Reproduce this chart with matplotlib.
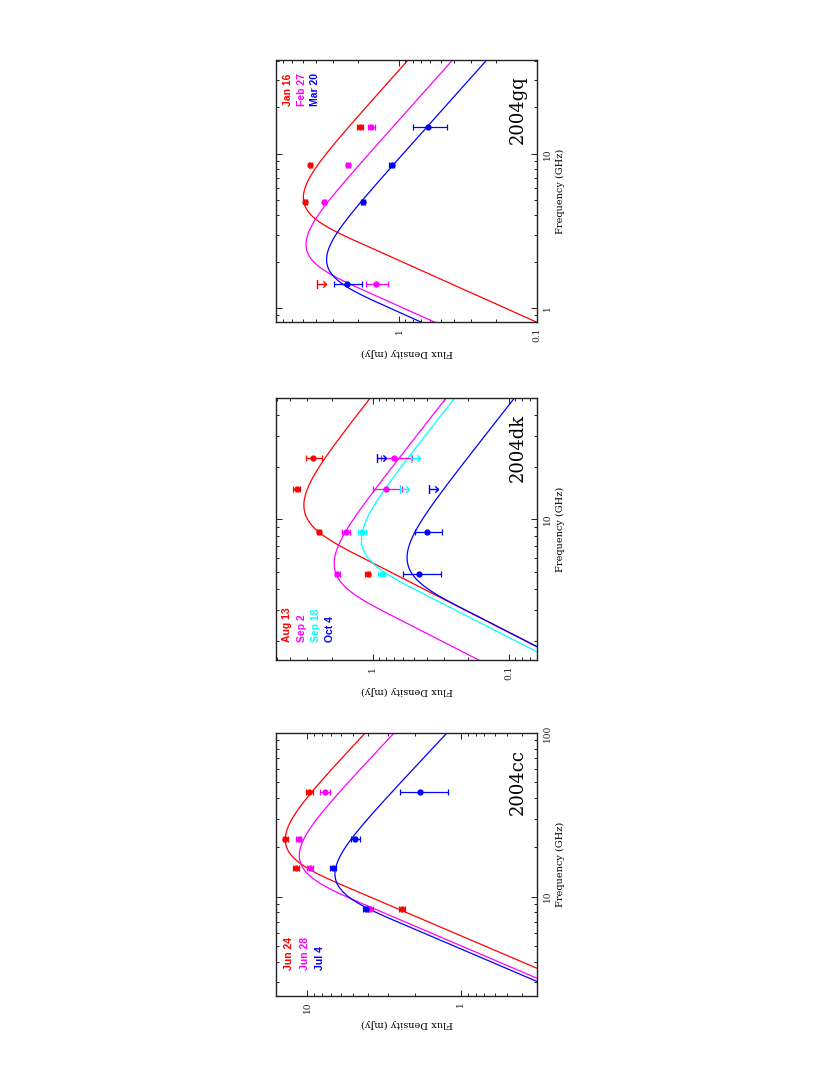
import numpy as np
import matplotlib
matplotlib.use("Agg")
import matplotlib.pyplot as plt
from matplotlib.path import Path
from matplotlib.ticker import LogLocator, NullFormatter, FixedLocator, FixedFormatter

nan = np.nan
colors = {"red": "#ff0000", "magenta": "#ff00ff", "cyan": "#00ffff", "blue": "#0000ff"}

# ---------------- SN 2004cc ----------------
cc_freq = [8.46, 15.0, 22.5, 43.3]
cc_dates = ["Jun 24", "Jun 28", "Jul 4"]
cc_cols = ["red", "magenta", "blue"]
cc_flux = [[2.42, 11.9, 13.9, 9.7],
           [3.9, 9.6, 11.4, 7.7],
           [4.16, 6.77, 4.86, 1.84]]
cc_err = [[0.12, 0.5, 0.5, 0.5],
          [0.15, 0.4, 0.4, 0.6],
          [0.15, 0.3, 0.3, 0.63]]
cc_ulim = [[nan] * 4, [nan] * 4, [nan] * 4]
cc_Fp = [13.53, 10.96, 6.42]       # SSA fit peak flux (mJy)
cc_nup = [19.64, 15.69, 12.11]     # SSA fit peak frequency (GHz)

# ---------------- SN 2004dk ----------------
dk_freq = [4.86, 8.46, 15.0, 22.5]
dk_dates = ["Aug 13", "Sep 2", "Sep 18", "Oct 4"]
dk_cols = ["red", "magenta", "cyan", "blue"]
dk_flux = [[1.09, 2.46, 3.6, 2.72],
           [1.81, 1.57, 0.80, 0.695],
           [0.86, 1.2, nan, nan],
           [0.459, 0.403, nan, nan]]
dk_err = [[0.05, 0.08, 0.2, 0.36],
          [0.07, 0.1, 0.19, 0.18],
          [0.05, 0.08, 0, 0],
          [0.145, 0.09, 0, 0]]
dk_ulim = [[nan] * 4, [nan] * 4,
           [nan, nan, 0.63, 0.522],
           [nan, nan, 0.385, 0.935]]
dk_Fp = [3.10, 1.86, 1.174, 0.544]
dk_nup = [10.6, 4.90, 6.73, 5.3]

# ---------------- SN 2004gq ----------------
gq_freq = [1.43, 4.86, 8.46, 15.0]
gq_dates = ["Jan 16", "Feb 27", "Mar 20"]
gq_cols = ["red", "magenta", "blue"]
gq_flux = [[nan, 4.8, 4.42, 1.93],
           [1.476, 3.5, 2.37, 1.6],
           [2.4, 1.82, 1.135, 0.623]]
gq_err = [[0, 0.1, 0.1, 0.1],
          [0.27, 0.1, 0.08, 0.09],
          [0.55, 0.06, 0.05, 0.17]]
gq_ulim = [[3.97, nan, nan, nan], [nan] * 4, [nan] * 4]
gq_Fp = [4.82, 4.61, 3.27]
gq_nup = [4.59, 2.28, 1.817]


def ssa(nu, Fp, nup, p=3.0):
    # Chevalier (1998) synchrotron self-absorbed spectrum
    x = nu / nup
    return 1.582 * Fp * x ** 2.5 * (1 - np.exp(-x ** (-(p + 4) / 2)))


# upper limit symbol: bar at the value, arrow towards lower flux
ul_marker = Path([(0, -1), (0, 1), (0, 0), (2, 0), (1.3, 0.7), (2, 0), (1.3, -0.7)],
                 [Path.MOVETO, Path.LINETO, Path.MOVETO, Path.LINETO,
                  Path.MOVETO, Path.LINETO, Path.LINETO])

SERIF = "DejaVu Serif"
LEG = "Liberation Sans"

fig = plt.figure(figsize=(8.3, 10.75), dpi=100)


def panel(rect, name, freq, dates, cols, flux, err, ulim, Fp, nup,
          xlim, ylim, xt, yt, leg_x, leg_y, leg_ha):
    ax = fig.add_axes(rect)
    ax.set_xscale("log")
    ax.set_yscale("log")
    ax.set_xlim(*xlim)
    ax.set_ylim(*ylim)

    nu = np.logspace(np.log10(ylim[0]), np.log10(ylim[1]), 400)
    for i in range(len(dates)):
        c = colors[cols[i]]
        ax.plot(ssa(nu, Fp[i], nup[i]), nu, color=c, lw=0.9, zorder=2)
        f = np.array(flux[i], float)
        e = np.array(err[i], float)
        ok = ~np.isnan(f)
        ax.errorbar(f[ok], np.array(freq)[ok], xerr=e[ok], fmt="o", ms=3.5,
                    color=c, ecolor=c, elinewidth=0.9, capsize=2.5, capthick=0.9,
                    zorder=3)
        u = np.array(ulim[i], float)
        uk = ~np.isnan(u)
        if uk.any():
            ax.plot(u[uk], np.array(freq)[uk], ls="none", marker=ul_marker, ms=13,
                    mfc="none", mec=c, mew=1.0, zorder=3)
        ax.text(leg_x[i], leg_y, dates[i], transform=ax.transAxes, rotation=90,
                rotation_mode="anchor", ha=leg_ha, va="baseline", color=c,
                fontsize=7.5, fontweight="bold", family=LEG)

    ax.text(0.946, 0.94, name, transform=ax.transAxes, rotation=90,
            rotation_mode="anchor", ha="right", va="baseline", fontsize=13,
            family=SERIF)

    ax.xaxis.set_major_locator(FixedLocator(xt[0]))
    ax.xaxis.set_major_formatter(FixedFormatter(xt[1]))
    ax.yaxis.set_major_locator(FixedLocator(yt[0]))
    ax.yaxis.set_major_formatter(FixedFormatter(yt[1]))
    for a in (ax.xaxis, ax.yaxis):
        a.set_minor_locator(LogLocator(base=10, subs=np.arange(2, 10), numticks=20))
        a.set_minor_formatter(NullFormatter())
    ax.tick_params(which="both", direction="in", top=True, bottom=True,
                   left=True, right=True, labelleft=False, labelright=True,
                   width=0.7, colors="#222222")
    ax.tick_params(which="major", length=4.0, pad=4)
    ax.tick_params(which="minor", length=2.0)
    for lab in ax.get_xticklabels():
        lab.set_rotation(90)
        lab.set_fontsize(6.5)
        lab.set_family(SERIF)
    for lab in ax.get_yticklabels():
        lab.set_rotation(90)
        lab.set_fontsize(6.5)
        lab.set_family(SERIF)
        lab.set_va("center")
    ax.set_xlabel("Flux Density (mJy)", rotation=180, fontsize=7, family=SERIF,
                  labelpad=4)
    ax.yaxis.set_label_position("right")
    ax.set_ylabel("Frequency (GHz)", rotation=90, fontsize=7, family=SERIF,
                  labelpad=3)
    for s in ax.spines.values():
        s.set_linewidth(1.0)
        s.set_color("#222222")
    return ax


L, W = 276 / 830, 261 / 830

panel([L, 1 - 996 / 1075, W, 263 / 1075], "2004cc", cc_freq, cc_dates, cc_cols,
      cc_flux, cc_err, cc_ulim, cc_Fp, cc_nup,
      (16.0, 0.318), (2.47, 100),
      ([10, 1], ["10", "1"]), ([10, 100], ["10", "100"]),
      [0.063, 0.1215, 0.18], 0.099, "left")

panel([L, 1 - 660.3 / 1075, W, 262 / 1075], "2004dk", dk_freq, dk_dates, dk_cols,
      dk_flux, dk_err, dk_ulim, dk_Fp, dk_nup,
      (5.1, 0.0626), (1.55, 49.6),
      ([1, 0.1], ["1", "0.1"]), ([10], ["10"]),
      [0.054, 0.11, 0.166, 0.22], 0.071, "left")

panel([L, 1 - 322.3 / 1075, W, 262.3 / 1075], "2004gq", gq_freq, gq_dates, gq_cols,
      gq_flux, gq_err, gq_ulim, gq_Fp, gq_nup,
      (7.83, 0.1), (0.811, 40.6),
      ([1, 0.1], ["1", "0.1"]), ([1, 10], ["1", "10"]),
      [0.059, 0.11, 0.162], 0.949, "right")

fig.savefig("out.png", dpi=100)
